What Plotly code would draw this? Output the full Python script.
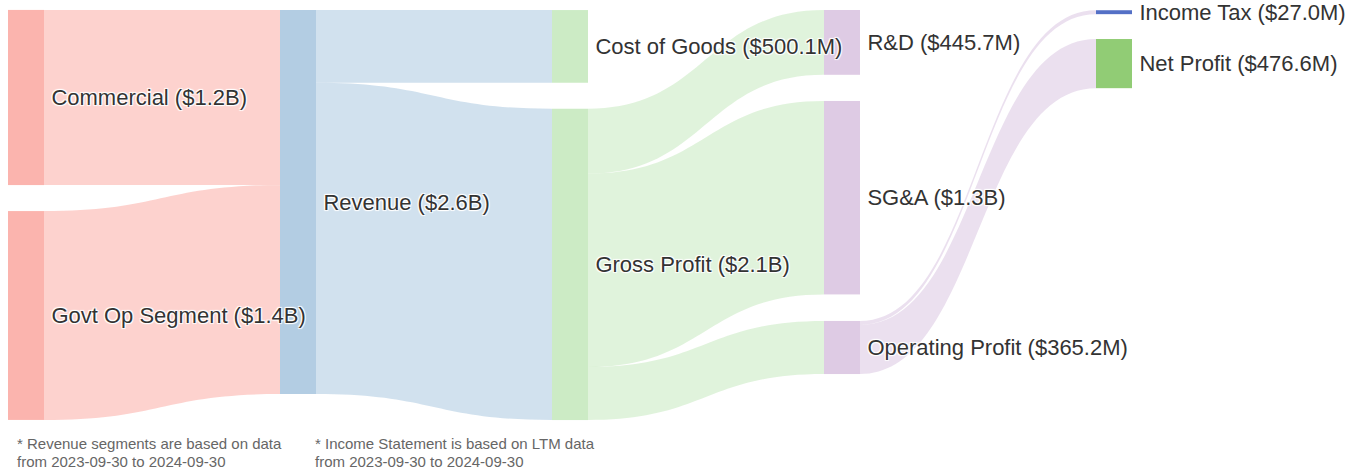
import plotly.graph_objects as go

# ---- data ----
node_names = ["Commercial", "Govt Op Segment", "Revenue", "Cost of Goods", "Gross Profit",
              "R&D", "SG&A", "Operating Profit", "Income Tax", "Net Profit"]
node_value_labels = ["$1.2B", "$1.4B", "$2.6B", "$500.1M", "$2.1B",
                     "$445.7M", "$1.3B", "$365.2M", "$27.0M", "$476.6M"]
link_source = [0, 1, 2, 2, 4, 4, 4, 7, 7]
link_target = [2, 2, 3, 4, 5, 6, 7, 8, 9]
link_values = [1205, 1437, 500.1, 2141.9, 445.7, 1331, 365.2, 27.0, 338.2]

footnote_left = ["* Revenue segments are based on data", "from 2023-09-30 to 2024-09-30"]
footnote_right = ["* Income Statement is based on LTM data", "from 2023-09-30 to 2024-09-30"]

# ---- styles / layout ----
node_colors = ["#fbb4ae", "#fbb4ae", "#b3cde3", "#ccebc5", "#ccebc5",
               "#decbe4", "#decbe4", "#decbe4", "#5470c6", "#91cc75"]
ML, MT, MB = 8, 10, 51
W, H = 1364 - ML, 471 - MT - MB
# node centre positions in pixels inside the sankey area (layout only)
node_cx = [18, 18, 290, 562, 562, 834, 834, 834, 1106, 1106]
node_cy = [87.5, 305.5, 192, 36.4, 254.4, 32.4, 187.7, 337.5, 2.2, 53.6]


def hex_to_rgba(h, a):
    h = h.lstrip("#")
    return "rgba(%d,%d,%d,%.2f)" % (int(h[0:2], 16), int(h[2:4], 16), int(h[4:6], 16), a)


PAD = "\u2009"
labels = [f"{PAD}{n} ({v})" for n, v in zip(node_names, node_value_labels)]
link_colors = [hex_to_rgba(node_colors[s], 0.6) for s in link_source]

# draw right-hand nodes first so that left-hand labels stay on top
n = len(node_names)
order = list(reversed(range(n)))          # new index -> old index
pos = {old: new for new, old in enumerate(order)}

labels_all = [labels[o] for o in order] + [""]
colors_all = [node_colors[o] for o in order] + ["rgba(0,0,0,0)"]
xs = [node_cx[o] / W for o in order] + [1350 / W]
ys = [node_cy[o] / H for o in order] + [53.6 / H]
dummy = n
# invisible helper column so the last real column keeps its labels on the right
src = [pos[s] for s in link_source] + [pos[9]]
tgt = [pos[t] for t in link_target] + [dummy]
vals = link_values + [1e-6]
lcols = link_colors + ["rgba(0,0,0,0)"]

fig = go.Figure(go.Sankey(
    arrangement="fixed",
    node=dict(
        label=labels_all,
        color=colors_all,
        pad=26,
        thickness=36,
        line=dict(width=0),
        align="left",
        x=xs,
        y=ys,
        hoverinfo="skip",
    ),
    link=dict(source=src, target=tgt, value=vals, color=lcols, hoverinfo="skip"),
    textfont=dict(family="Liberation Sans, Arial, sans-serif", size=22, color="#333333"),
))

fig.update_layout(
    width=1364, height=471,
    margin=dict(l=ML, r=0, t=MT, b=MB),
    paper_bgcolor="white",
    font=dict(family="Liberation Sans, Arial, sans-serif"),
)

for x_px, lines in [(7, footnote_left), (305, footnote_right)]:
    for k, line in enumerate(lines):
        fig.add_annotation(text=line, xref="paper", yref="paper", x=x_px / W,
                           y=-(23 + 18 * k) / H, xanchor="left", yanchor="middle",
                           align="left", showarrow=False,
                           font=dict(size=15, color="#666666"))

fig.write_html("out.html", config={"displayModeBar": False},
               post_script="document.body.style.margin='0';")
